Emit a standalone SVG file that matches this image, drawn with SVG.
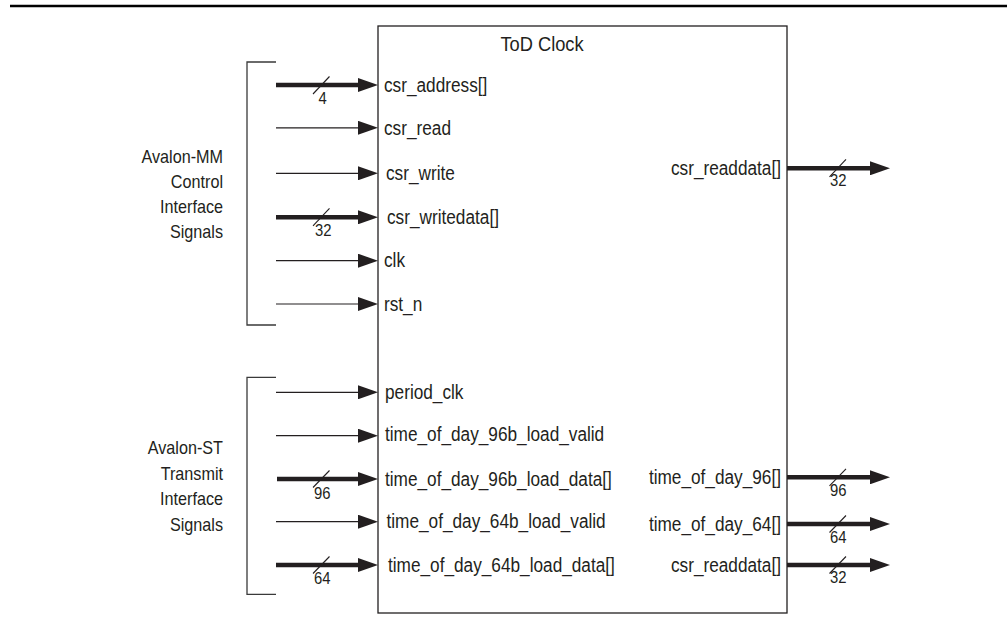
<svg xmlns="http://www.w3.org/2000/svg" width="1007" height="625" viewBox="0 0 1007 625">
<style>
  text{font-family:"Liberation Sans",Arial,sans-serif;fill:#231f20}
  .lbl{font-size:19.8px}
  .ttl{font-size:21px;text-anchor:middle}
  .grp{font-size:18.6px;text-anchor:end}
  .num{font-size:16.5px}
  .end{text-anchor:end}
  .thin{stroke:#231f20;stroke-width:1.2;fill:none}
  .bus{stroke:#231f20;stroke-width:4.5;fill:none}
  .slash{stroke:#231f20;stroke-width:1.1;fill:none}
  .brk{stroke:#3a3a3a;stroke-width:1.3;fill:none}
</style>
<defs>
  <marker id="ah" markerUnits="userSpaceOnUse" viewBox="0 0 20 14" markerWidth="20" markerHeight="14" refX="4" refY="7" orient="auto">
    <path d="M0,0 L20,7 L0,14 Z" fill="#231f20"/>
  </marker>
</defs>
<rect width="1007" height="625" fill="#ffffff"/>
<line x1="10" y1="6" x2="1007" y2="6" stroke="#000" stroke-width="2.4"/>

<g id="tod_clock">
  <rect x="378" y="26" width="409" height="587" fill="none" stroke="#231f20" stroke-width="1.3"/>
  <text class="ttl" transform="translate(542 50.7) scale(0.87 1)">ToD Clock</text>
  <text class="lbl" transform="translate(384 91.7) scale(0.87 1)">csr_address[]</text>
  <text class="lbl" transform="translate(384 134.5) scale(0.87 1)">csr_read</text>
  <text class="lbl" transform="translate(386 180) scale(0.87 1)">csr_write</text>
  <text class="lbl" transform="translate(387 224) scale(0.87 1)">csr_writedata[]</text>
  <text class="lbl" transform="translate(384 267.4) scale(0.87 1)">clk</text>
  <text class="lbl" transform="translate(384 310.7) scale(0.87 1)">rst_n</text>
  <text class="lbl" transform="translate(385 399) scale(0.87 1)">period_clk</text>
  <text class="lbl" transform="translate(385 440.7) scale(0.87 1)">time_of_day_96b_load_valid</text>
  <text class="lbl" transform="translate(385 485.7) scale(0.87 1)">time_of_day_96b_load_data[]</text>
  <text class="lbl" transform="translate(386.5 528.4) scale(0.87 1)">time_of_day_64b_load_valid</text>
  <text class="lbl" transform="translate(388 571.7) scale(0.87 1)">time_of_day_64b_load_data[]</text>
  <text class="lbl end" transform="translate(781 175) scale(0.87 1)">csr_readdata[]</text>
  <text class="lbl end" transform="translate(781 484) scale(0.87 1)">time_of_day_96[]</text>
  <text class="lbl end" transform="translate(781 530.7) scale(0.87 1)">time_of_day_64[]</text>
  <text class="lbl end" transform="translate(781 571.7) scale(0.87 1)">csr_readdata[]</text>
</g>

<g id="avalon_mm_group">
  <path class="brk" d="M276,62 H247 V325 H276"/>
  <text class="grp" transform="translate(223 163.3) scale(0.87 1)">Avalon-MM</text>
  <text class="grp" transform="translate(223 188.3) scale(0.87 1)">Control</text>
  <text class="grp" transform="translate(223 213.3) scale(0.87 1)">Interface</text>
  <text class="grp" transform="translate(223 238) scale(0.87 1)">Signals</text>
</g>

<g id="avalon_st_group">
  <path class="brk" d="M276,377.3 H247 V594.3 H276"/>
  <text class="grp" transform="translate(223 454) scale(0.87 1)">Avalon-ST</text>
  <text class="grp" transform="translate(223 479.5) scale(0.87 1)">Transmit</text>
  <text class="grp" transform="translate(223 505) scale(0.87 1)">Interface</text>
  <text class="grp" transform="translate(223 530.5) scale(0.87 1)">Signals</text>
</g>

<g id="connectors">
  <line class="bus" x1="276" y1="85" x2="362" y2="85" marker-end="url(#ah)"/>
  <line class="thin" x1="276" y1="127.8" x2="362" y2="127.8" marker-end="url(#ah)"/>
  <line class="thin" x1="276" y1="173.3" x2="362" y2="173.3" marker-end="url(#ah)"/>
  <line class="bus" x1="276" y1="217.3" x2="362" y2="217.3" marker-end="url(#ah)"/>
  <line class="thin" x1="276" y1="260.7" x2="362" y2="260.7" marker-end="url(#ah)"/>
  <line class="thin" x1="276" y1="304" x2="362" y2="304" marker-end="url(#ah)"/>
  <line class="thin" x1="276" y1="392.3" x2="362" y2="392.3" marker-end="url(#ah)"/>
  <line class="thin" x1="276" y1="435.7" x2="362" y2="435.7" marker-end="url(#ah)"/>
  <line class="bus" x1="277" y1="479" x2="362" y2="479" marker-end="url(#ah)"/>
  <line class="thin" x1="276" y1="521.7" x2="362" y2="521.7" marker-end="url(#ah)"/>
  <line class="bus" x1="276" y1="565" x2="362" y2="565" marker-end="url(#ah)"/>

  <line class="bus" x1="787" y1="168.3" x2="874" y2="168.3" marker-end="url(#ah)"/>
  <line class="bus" x1="787" y1="477.3" x2="874" y2="477.3" marker-end="url(#ah)"/>
  <line class="bus" x1="787" y1="524" x2="874" y2="524" marker-end="url(#ah)"/>
  <line class="bus" x1="787" y1="565" x2="874" y2="565" marker-end="url(#ah)"/>

  <line class="slash" x1="313" y1="94" x2="329.5" y2="76.5"/>
  <line class="slash" x1="313" y1="225.8" x2="329.5" y2="208.3"/>
  <line class="slash" x1="313" y1="487.5" x2="329.5" y2="470.5"/>
  <line class="slash" x1="313" y1="573.5" x2="329.5" y2="556.5"/>
  <line class="slash" x1="829.5" y1="176.8" x2="846" y2="159.3"/>
  <line class="slash" x1="829.5" y1="485.8" x2="846" y2="468.8"/>
  <line class="slash" x1="829.5" y1="532.5" x2="846" y2="515.5"/>
  <line class="slash" x1="829.5" y1="573.5" x2="846" y2="556.5"/>

  <text class="num" transform="translate(318.5 103.5) scale(0.9 1)">4</text>
  <text class="num" transform="translate(315 236) scale(0.9 1)">32</text>
  <text class="num" transform="translate(314 498.5) scale(0.9 1)">96</text>
  <text class="num" transform="translate(314 584.3) scale(0.9 1)">64</text>
  <text class="num" transform="translate(830 186) scale(0.9 1)">32</text>
  <text class="num" transform="translate(830 496) scale(0.9 1)">96</text>
  <text class="num" transform="translate(830 542.5) scale(0.9 1)">64</text>
  <text class="num" transform="translate(830 583) scale(0.9 1)">32</text>
</g>
</svg>
